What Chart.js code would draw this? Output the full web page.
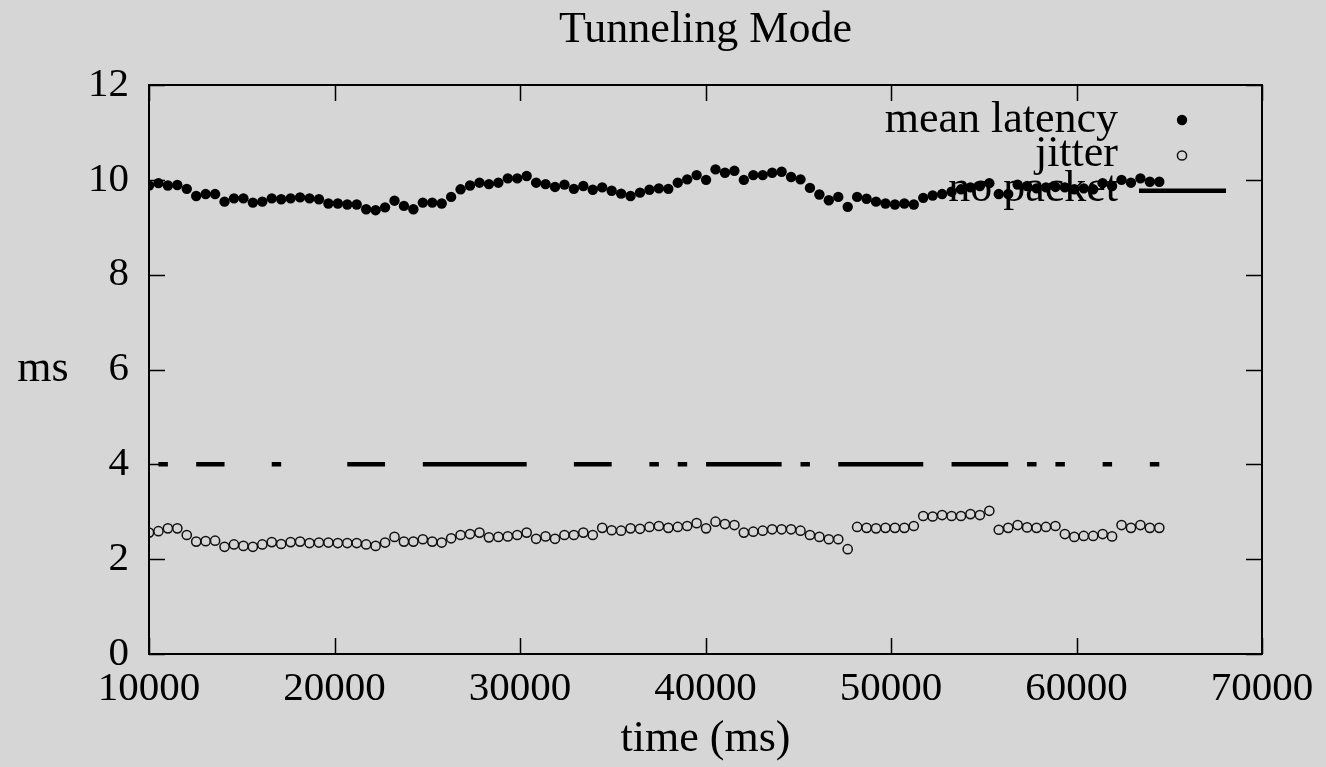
<!DOCTYPE html>
<html><head><meta charset="utf-8">
<script src="https://cdn.jsdelivr.net/npm/chart.js@4.4.1/dist/chart.umd.min.js"></script>
<style>html,body{margin:0;padding:0;background:#d6d6d6;}canvas{display:block;}</style>
</head><body>
<canvas id="c" width="1326" height="767"></canvas>
<script>
// ---- data ----
const chartTitle = 'Tunneling Mode';
const xTitle = 'time (ms)';
const yTitle = 'ms';
const seriesLabels = ['mean latency', 'jitter', 'no packet'];
const xTicks = [10000, 20000, 30000, 40000, 50000, 60000, 70000];
const yTicks = [0, 2, 4, 6, 8, 10, 12];

const times = [10000,10509,11018,11527,12036,12545,13054,13563,14072,14581,
15090,15599,16108,16617,17126,17635,18144,18653,19162,19671,
20180,20689,21198,21707,22216,22725,23234,23743,24252,24761,
25270,25779,26288,26797,27306,27815,28324,28833,29342,29851,
30360,30869,31378,31887,32396,32905,33414,33923,34432,34941,
35450,35959,36468,36977,37486,37995,38504,39013,39522,40031,
40540,41049,41558,42067,42576,43085,43594,44103,44612,45121,
45630,46139,46648,47157,47666,48175,48684,49193,49702,50211,
50720,51229,51738,52247,52756,53265,53774,54283,54792,55301,
55810,56319,56828,57337,57846,58355,58864,59373,59882,60391,
60900,61409,61918,62427,62936,63445,63954,64463];

const meanLatency = [9.88,9.93,9.88,9.89,9.81,9.66,9.70,9.70,9.54,9.61,
9.61,9.52,9.54,9.61,9.59,9.61,9.63,9.61,9.59,9.50,
9.50,9.48,9.48,9.38,9.36,9.42,9.56,9.45,9.38,9.52,
9.52,9.50,9.64,9.80,9.88,9.94,9.91,9.94,10.03,10.03,
10.08,9.94,9.91,9.85,9.90,9.81,9.87,9.79,9.84,9.77,
9.71,9.66,9.73,9.79,9.82,9.81,9.94,10.01,10.10,10.00,
10.22,10.15,10.19,10.00,10.10,10.10,10.15,10.17,10.06,10.01,
9.83,9.69,9.57,9.64,9.43,9.64,9.60,9.54,9.50,9.48,
9.50,9.48,9.62,9.67,9.70,9.75,9.80,9.84,9.87,9.93,
9.70,9.70,9.90,9.87,9.82,9.84,9.85,9.84,9.80,9.82,
9.80,9.93,9.87,10.00,9.94,10.03,9.96,9.96];

const jitter = [2.56,2.59,2.65,2.65,2.51,2.37,2.38,2.39,2.26,2.31,
2.28,2.26,2.31,2.36,2.32,2.36,2.37,2.34,2.35,2.35,
2.34,2.34,2.34,2.31,2.28,2.35,2.47,2.37,2.37,2.42,
2.37,2.35,2.44,2.51,2.53,2.56,2.46,2.47,2.48,2.51,
2.56,2.43,2.48,2.43,2.51,2.51,2.56,2.51,2.66,2.61,
2.60,2.65,2.64,2.68,2.70,2.66,2.68,2.70,2.76,2.65,
2.79,2.74,2.72,2.56,2.58,2.60,2.63,2.63,2.63,2.60,
2.51,2.47,2.42,2.42,2.21,2.68,2.66,2.65,2.66,2.66,
2.66,2.70,2.91,2.90,2.93,2.91,2.91,2.95,2.93,3.02,
2.62,2.66,2.72,2.67,2.66,2.68,2.70,2.53,2.47,2.49,
2.49,2.53,2.48,2.72,2.66,2.72,2.66,2.66];

const noPacket = [null,4,4,null,null,4,4,4,4,null,
null,null,null,4,4,null,null,null,null,null,
null,4,4,4,4,4,null,null,null,4,
4,4,4,4,4,4,4,4,4,4,
4,null,null,null,null,4,4,4,4,4,
null,null,null,4,4,null,4,4,null,4,
4,4,4,4,4,4,4,4,null,4,
4,null,null,4,4,4,4,4,4,4,
4,4,4,null,null,4,4,4,4,4,
4,4,null,4,4,null,4,4,null,null,
null,4,4,null,null,null,4,4];

// ---- styling ----
const BG = '#d6d6d6';
const INK = '#000000';
const FONT = 'Liberation Serif';

const pts = (vals) => times.map((t, i) => ({x: t, y: vals[i]}));

const framePlugin = {
  id: 'frame',
  beforeDraw(chart) {
    const c = chart.ctx;
    c.save();
    c.fillStyle = BG;
    c.fillRect(0, 0, chart.width, chart.height);
    c.restore();
  },
  beforeDatasetsDraw(chart) {
    const {ctx: c, chartArea: a, scales} = chart;
    c.save();
    c.strokeStyle = INK;
    c.lineWidth = 1.5;
    const tl = 16;
    scales.x.ticks.forEach(t => {
      const px = Math.round(scales.x.getPixelForValue(t.value)) + 0.5;
      c.beginPath();
      c.moveTo(px, a.bottom); c.lineTo(px, a.bottom - tl);
      c.moveTo(px, a.top); c.lineTo(px, a.top + tl);
      c.stroke();
    });
    scales.y.ticks.forEach(t => {
      const py = Math.round(scales.y.getPixelForValue(t.value)) + 0.5;
      c.beginPath();
      c.moveTo(a.left, py); c.lineTo(a.left + tl, py);
      c.moveTo(a.right, py); c.lineTo(a.right - tl, py);
      c.stroke();
    });
    c.lineWidth = 2;
    c.strokeRect(a.left, a.top, a.right - a.left, a.bottom - a.top);
    // chart title, centred over the plot area
    c.fillStyle = INK;
    c.font = '44px "' + FONT + '"';
    c.textAlign = 'center';
    c.textBaseline = 'alphabetic';
    c.fillText(chartTitle, (a.left + a.right) / 2, 42);
    // y axis title (horizontal, as in the reference)
    c.fillText(yTitle, 43, 381);
    // key
    const ds = chart.data.datasets;
    const textRight = 1118;
    const markX = 1182;
    const rows = [120, 155.5, 190.7];
    const baselines = [131.5, 165.5, 200.5];
    c.textAlign = 'right';
    ds.forEach((d, i) => {
      c.fillStyle = INK;
      c.fillText(d.label, textRight, baselines[i]);
      c.beginPath();
      if (i === 0) {
        c.arc(markX, rows[i], d.pointRadius, 0, Math.PI * 2);
        c.fillStyle = d.backgroundColor; c.fill();
      } else if (i === 1) {
        c.arc(markX, rows[i], d.pointRadius, 0, Math.PI * 2);
        c.lineWidth = d.pointBorderWidth; c.strokeStyle = d.pointBorderColor; c.stroke();
      } else {
        c.moveTo(1139, rows[i]); c.lineTo(1226, rows[i]);
        c.lineWidth = d.borderWidth; c.strokeStyle = d.borderColor; c.stroke();
      }
    });
    c.restore();
  }
};

new Chart(document.getElementById('c'), {
  type: 'scatter',
  data: {
    datasets: [
      {label: seriesLabels[0], data: pts(meanLatency), pointStyle: 'circle', pointRadius: 5.2,
       backgroundColor: INK, borderWidth: 0, pointBorderWidth: 0, showLine: false},
      {label: seriesLabels[1], data: pts(jitter), pointStyle: 'circle', pointRadius: 4.6,
       backgroundColor: 'rgba(0,0,0,0)', pointBackgroundColor: 'rgba(0,0,0,0)',
       borderColor: '#111', pointBorderColor: '#111', pointBorderWidth: 1.5, borderWidth: 1.5, showLine: false},
      {label: seriesLabels[2], data: pts(noPacket), showLine: true, spanGaps: false, pointRadius: 0,
       borderColor: INK, borderWidth: 4.5, borderCapStyle: 'butt', backgroundColor: INK}
    ]
  },
  options: {
    responsive: false, animation: false, devicePixelRatio: 1,
    layout: {padding: {left: 0, right: 64, top: 85, bottom: 0}},
    plugins: {
      legend: {display: false},
      tooltip: {enabled: false},
      title: {display: false}
    },
    scales: {
      x: {
        type: 'linear', min: 10000, max: 70000,
        afterBuildTicks: s => { s.ticks = xTicks.map(v => ({value: v})); },
        ticks: {callback: v => String(v), color: INK, font: {family: FONT, size: 41}, padding: 11,
                maxRotation: 0, autoSkip: false},
        grid: {display: false, drawTicks: false},
        border: {display: false},
        title: {display: true, text: xTitle, color: INK, font: {family: FONT, size: 44}, padding: {top: 0, bottom: 1}},
        afterFit: s => { s.height = 113; }
      },
      y: {
        min: 0, max: 12,
        afterBuildTicks: s => { s.ticks = yTicks.map(v => ({value: v})); },
        ticks: {color: INK, font: {family: FONT, size: 41}, padding: 20},
        grid: {display: false, drawTicks: false},
        border: {display: false},
        afterFit: s => { s.width = 149; }
      }
    }
  },
  plugins: [framePlugin]
});
</script>
</body></html>
